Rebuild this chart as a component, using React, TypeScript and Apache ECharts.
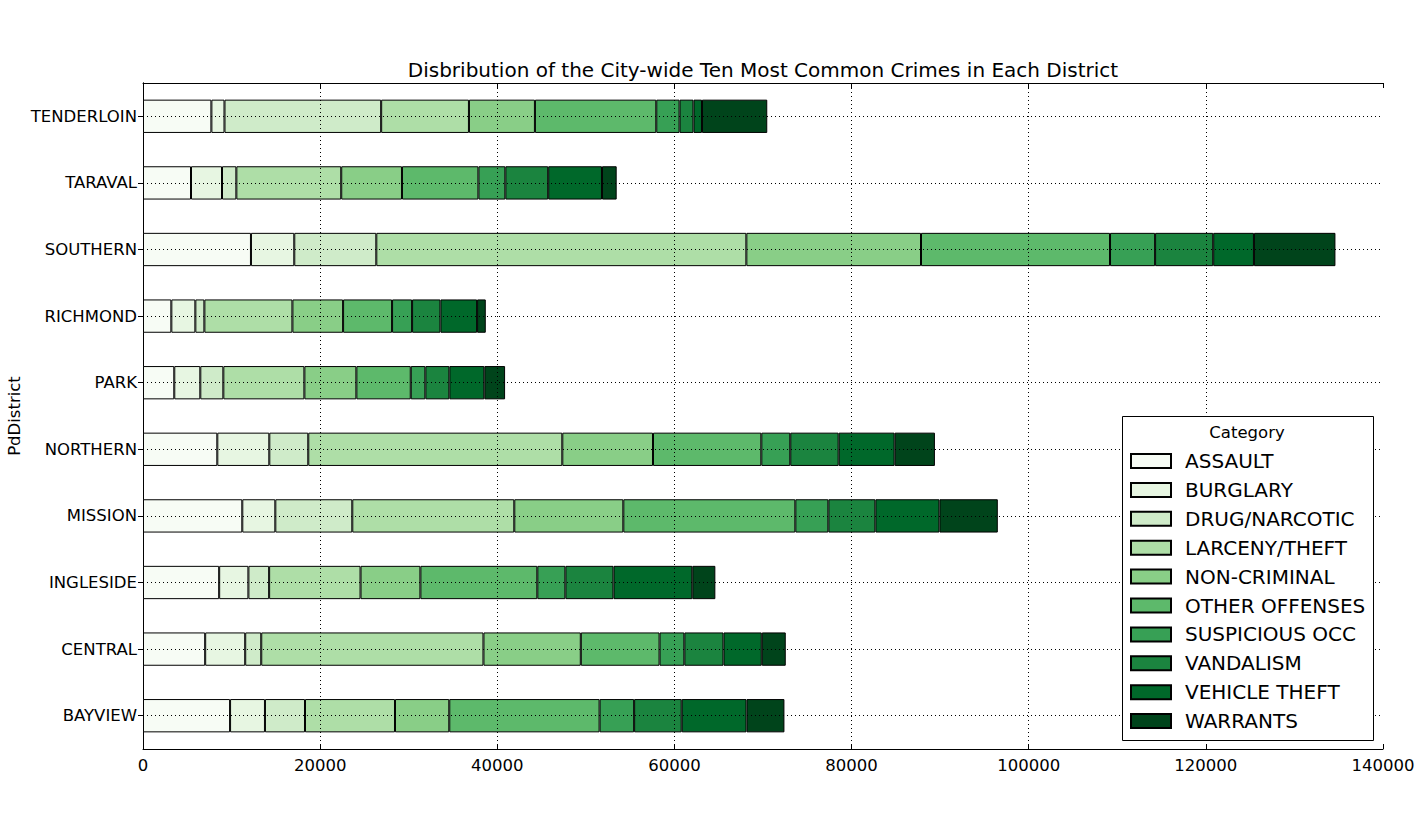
import React, { useEffect, useRef } from "react";
import * as echarts from "echarts";

const districts = ["BAYVIEW", "CENTRAL", "INGLESIDE", "MISSION", "NORTHERN", "PARK", "RICHMOND", "SOUTHERN", "TARAVAL", "TENDERLOIN"];
const categories = ["ASSAULT", "BURGLARY", "DRUG/NARCOTIC", "LARCENY/THEFT", "NON-CRIMINAL", "OTHER OFFENSES", "SUSPICIOUS OCC", "VANDALISM", "VEHICLE THEFT", "WARRANTS"];
const colors = ["#f7fcf5", "#e7f6e2", "#cfebc9", "#aedea7", "#89ce87", "#5db96b", "#37a055", "#1b843f", "#00682a", "#00441b"];

const assault = [9830, 7020, 8600, 11210, 8390, 3530, 3200, 12190, 5420, 7720];
const burglary = [3940, 4520, 3300, 3730, 5870, 2940, 2710, 4890, 3500, 1480];
const drugNarcotic = [4520, 1810, 2340, 8690, 4400, 2600, 1020, 9260, 1620, 17690];
const larcenyTheft = [10160, 25090, 10320, 18290, 28680, 9150, 9940, 41780, 11840, 9910];
const nonCriminal = [6130, 10990, 6760, 12310, 10240, 5870, 5720, 19720, 6860, 7450];
const otherOffenses = [16970, 8890, 13200, 19420, 12230, 6140, 5530, 21340, 8630, 13700];
const suspiciousOcc = [3900, 2800, 3170, 3730, 3270, 1650, 2260, 5090, 3040, 2630];
const vandalism = [5370, 4420, 5430, 5310, 5460, 2710, 3200, 6560, 4840, 1570];
const vehicleTheft = [7320, 4320, 8900, 7230, 6320, 3950, 4140, 4600, 6070, 960];
const warrants = [4280, 2710, 2600, 6590, 4550, 2340, 980, 9200, 1660, 7370];

const seriesValues = [assault, burglary, drugNarcotic, larcenyTheft, nonCriminal, otherOffenses, suspiciousOcc, vandalism, vehicleTheft, warrants];
const xTicks = [20000, 40000, 60000, 80000, 100000, 120000];

const FONT = "DejaVu Sans";

export default function App() {
  const ref = useRef<HTMLDivElement>(null);
  useEffect(() => {
    if (!ref.current) return;
    const chart = echarts.init(ref.current, null, { renderer: "svg" });
    const dotted = { color: "#000", width: 1, type: [1, 3] as any };
    const series: any[] = categories.map((name, i) => ({
      name,
      type: "bar",
      stack: "total",
      barWidth: "50%",
      data: seriesValues[i],
      itemStyle: { color: colors[i], borderColor: "#000", borderWidth: 1 },
      z: 2,
    }));
    series.push({
      name: "gridlines",
      type: "line",
      data: [],
      z: 5,
      silent: true,
      markLine: {
        silent: true,
        symbol: ["none", "none"],
        label: { show: false },
        lineStyle: dotted,
        data: [
          ...xTicks.map((v) => ({ xAxis: v })),
          ...districts.map((d) => ({ yAxis: d })),
        ],
      },
    });
    const axisLine = { show: true, lineStyle: { color: "#000", width: 1 } };
    const tick = { show: true, inside: true, length: 5, lineStyle: { color: "#000", width: 1 } };
    chart.setOption({
      animation: false,
      textStyle: { fontFamily: FONT },
      grid: { left: 143, top: 83, width: 1240, height: 666, containLabel: false },
      xAxis: [
        {
          type: "value",
          min: 0,
          max: 140000,
          interval: 20000,
          axisLine,
          axisTick: tick,
          splitLine: { show: false },
          axisLabel: { color: "#000", fontSize: 16.5, fontFamily: FONT, margin: 8, formatter: (v: number) => String(v) },
        },
        {
          type: "value",
          position: "top",
          min: 0,
          max: 140000,
          interval: 20000,
          axisLine,
          axisTick: tick,
          splitLine: { show: false },
          axisLabel: { show: false },
        },
      ],
      yAxis: [
        {
          type: "category",
          data: districts,
          axisLine,
          axisTick: { ...tick, alignWithLabel: true },
          splitLine: { show: false },
          axisLabel: { color: "#000", fontSize: 16.5, fontFamily: FONT, margin: 6 },
        },
        {
          type: "category",
          position: "right",
          data: districts,
          axisLine,
          axisTick: { ...tick, alignWithLabel: true },
          splitLine: { show: false },
          axisLabel: { show: false },
        },
      ],
      legend: {
        data: categories,
        orient: "vertical",
        left: 1130,
        top: 451,
        itemWidth: 40,
        itemHeight: 14,
        itemGap: 8.9,
        icon: "rect",
        padding: 0,
        z: 12,
        textStyle: { fontSize: 20, fontFamily: FONT, color: "#000", lineHeight: 20, padding: [0, 0, 0, 9] },
        selectedMode: false,
      },
      graphic: [
        {
          type: "rect",
          shape: { x: 1122.5, y: 416.5, width: 251, height: 324 },
          style: { fill: "#fff", stroke: "#000", lineWidth: 1 },
          z: 11,
        },
        {
          type: "text",
          x: 1247,
          y: 432,
          style: { text: "Category", fontSize: 16.5, fontFamily: FONT, fill: "#000", textAlign: "center", textVerticalAlign: "middle" },
          z: 12,
        },
        {
          type: "text",
          x: 763,
          y: 70,
          style: {
            text: "Disbribution of the City-wide Ten Most Common Crimes in Each District",
            fontSize: 20,
            fontFamily: FONT,
            fill: "#000",
            textAlign: "center",
            textVerticalAlign: "middle",
          },
        },
        {
          type: "text",
          x: 14,
          y: 416,
          rotation: Math.PI / 2,
          style: { text: "PdDistrict", fontSize: 16.5, fontFamily: FONT, fill: "#000", textAlign: "center", textVerticalAlign: "middle" },
        },
      ],
      series,
    });
    return () => chart.dispose();
  }, []);
  return <div ref={ref} style={{ position: "absolute", left: 0, top: 0, width: 1420, height: 833 }} />;
}
